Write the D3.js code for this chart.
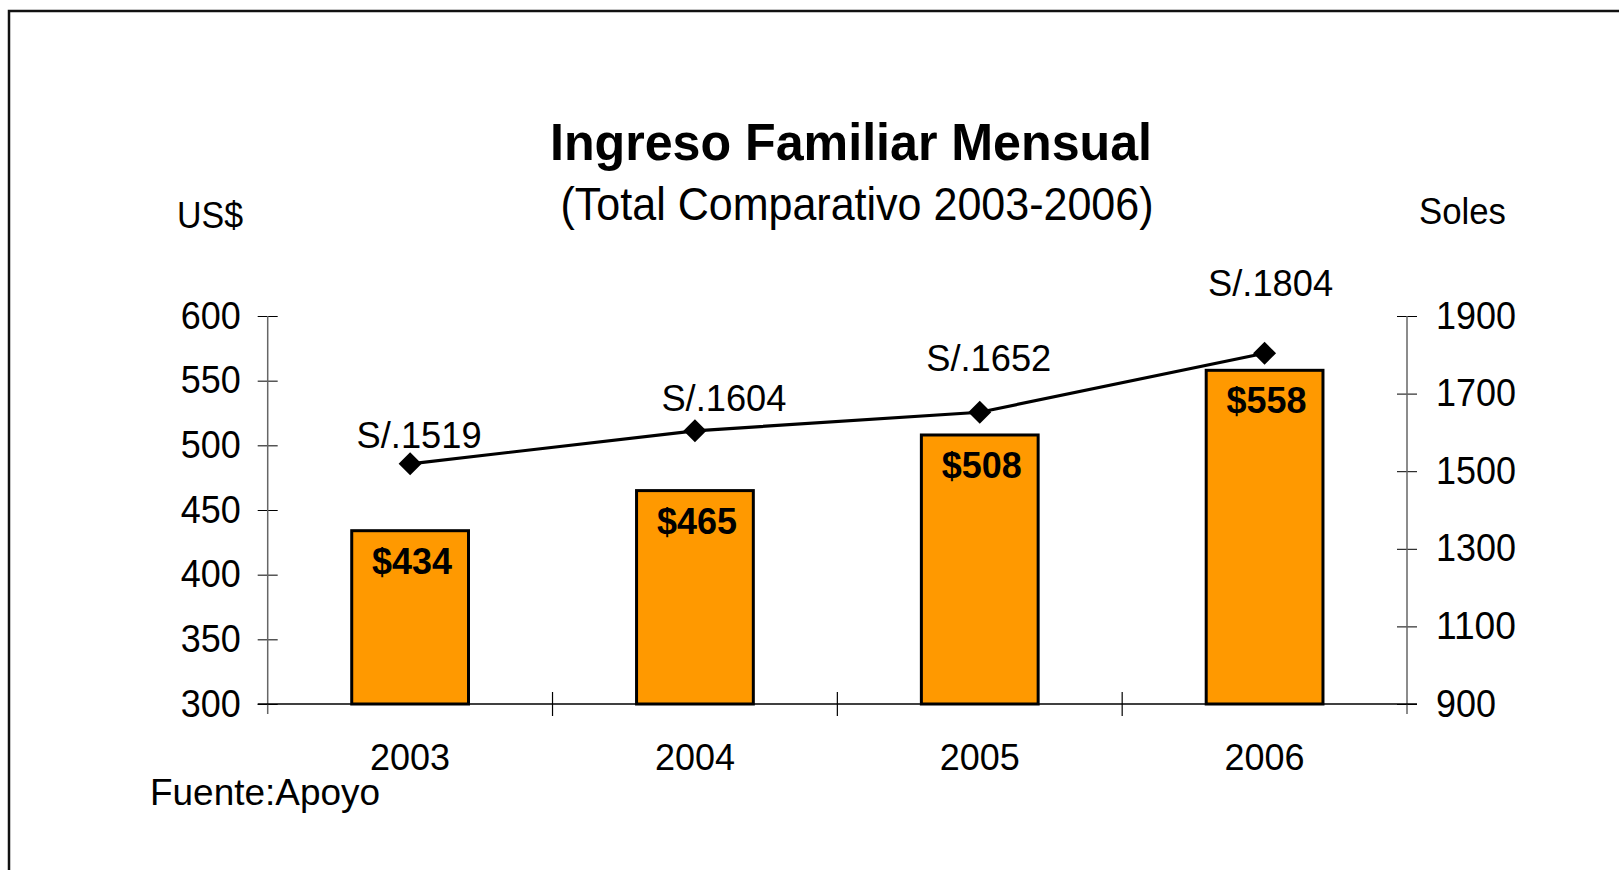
<!DOCTYPE html>
<html>
<head>
<meta charset="utf-8">
<script src="https://cdn.jsdelivr.net/npm/d3@7"></script>
<style>
  body { margin: 0; background: #fff; }
  text { font-family: "Liberation Sans", Arial, sans-serif; fill: #000; }
</style>
</head>
<body>
<div id="chart"></div>
<script>
// data
var years = ["2003", "2004", "2005", "2006"];
var usd = [434, 465, 508, 558];
var soles = [1519, 1604, 1652, 1804];
var usdTicks = [300, 350, 400, 450, 500, 550, 600];
var solesTicks = [900, 1100, 1300, 1500, 1700, 1900];

// hand placement of the soles labels (dx, dy from the point), as in the original
var solesLabelNudge = [[9, -16], [29, -20], [9, -41], [6, -57]];

var W = 1619, H = 870;
var plot = { left: 267.7, right: 1407, top: 316, bottom: 704 };

var svg = d3.select('#chart').append('svg')
    .attr('width', W)
    .attr('height', H);

// outer frame (only top and left edges show in the picture)
svg.append('path')
    .attr('d', 'M9,' + H + 'V11H' + W)
    .attr('fill', 'none')
    .attr('stroke', '#111')
    .attr('stroke-width', 2.5);

var x = d3.scaleBand()
    .domain(years)
    .range([plot.left, plot.right]);

var yL = d3.scaleLinear().domain([300, 600]).range([plot.bottom, plot.top]);
var yR = d3.scaleLinear().domain([900, 1900]).range([plot.bottom, plot.top]);

var barW = x.bandwidth() * 0.41;
var cx = function(i) { return x(years[i]) + x.bandwidth() / 2; };

// titles
svg.append('text')
    .attr('x', 851).attr('y', 160)
    .attr('text-anchor', 'middle')
    .attr('font-size', 52).attr('font-weight', 'bold')
    .attr('textLength', 602).attr('lengthAdjust', 'spacingAndGlyphs')
    .text('Ingreso Familiar Mensual');

svg.append('text')
    .attr('x', 857).attr('y', 220)
    .attr('text-anchor', 'middle')
    .attr('font-size', 46)
    .attr('textLength', 593).attr('lengthAdjust', 'spacingAndGlyphs')
    .text('(Total Comparativo 2003-2006)');

svg.append('text')
    .attr('x', 177).attr('y', 228)
    .attr('font-size', 37)
    .attr('textLength', 66).attr('lengthAdjust', 'spacingAndGlyphs')
    .text('US$');

svg.append('text')
    .attr('x', 1419).attr('y', 224)
    .attr('font-size', 37)
    .attr('textLength', 87).attr('lengthAdjust', 'spacingAndGlyphs')
    .text('Soles');

// left axis
var gL = svg.append('g')
    .attr('transform', 'translate(' + plot.left + ',0)')
    .call(d3.axisLeft(yL).tickValues(usdTicks).tickFormat(d3.format('d')).tickSize(10).tickPadding(17));
gL.select('.domain').remove();
gL.selectAll('.tick line').attr('x1', 10).attr('stroke', '#000');
gL.selectAll('.tick text').attr('font-size', 38).attr('font-family', 'Liberation Sans, Arial, sans-serif').attr('fill', '#000')
    .attr('textLength', 60).attr('lengthAdjust', 'spacingAndGlyphs');
svg.append('line')
    .attr('x1', plot.left).attr('x2', plot.left)
    .attr('y1', plot.top).attr('y2', plot.bottom + 10)
    .attr('stroke', '#666').attr('stroke-width', 1.5);

// right axis
var gR = svg.append('g')
    .attr('transform', 'translate(' + plot.right + ',0)')
    .call(d3.axisRight(yR).tickValues(solesTicks).tickFormat(d3.format('d')).tickSize(10).tickPadding(19));
gR.select('.domain').remove();
gR.selectAll('.tick line').attr('x1', -10).attr('stroke', '#000');
gR.selectAll('.tick text').attr('font-size', 38).attr('font-family', 'Liberation Sans, Arial, sans-serif').attr('fill', '#000')
    .attr('textLength', (d) => String(d).length * 20).attr('lengthAdjust', 'spacingAndGlyphs');
svg.append('line')
    .attr('x1', plot.right).attr('x2', plot.right)
    .attr('y1', plot.top).attr('y2', plot.bottom + 10)
    .attr('stroke', '#666').attr('stroke-width', 1.5);

// bars
svg.selectAll('rect.bar')
    .data(usd)
    .enter().append('rect')
    .attr('class', 'bar')
    .attr('x', (d, i) => cx(i) - barW / 2)
    .attr('y', (d) => yL(d))
    .attr('width', barW)
    .attr('height', (d) => plot.bottom - yL(d))
    .attr('fill', '#FF9900')
    .attr('stroke', '#000')
    .attr('stroke-width', 3);

// bar labels
svg.selectAll('text.usd')
    .data(usd)
    .enter().append('text')
    .attr('class', 'usd')
    .attr('x', (d, i) => cx(i) + 2)
    .attr('y', (d) => yL(d) + 43)
    .attr('text-anchor', 'middle')
    .attr('font-size', 37)
    .attr('font-weight', 'bold')
    .attr('textLength', 80).attr('lengthAdjust', 'spacingAndGlyphs')
    .text((d) => '$' + d);

// bottom axis: baseline, separators, year labels
svg.append('line')
    .attr('x1', plot.left - 10).attr('x2', plot.right + 10)
    .attr('y1', plot.bottom).attr('y2', plot.bottom)
    .attr('stroke', '#000').attr('stroke-width', 1.5);

svg.selectAll('line.sep')
    .data(years.slice(1))
    .enter().append('line')
    .attr('class', 'sep')
    .attr('x1', (d) => x(d)).attr('x2', (d) => x(d))
    .attr('y1', plot.bottom - 12).attr('y2', plot.bottom + 12)
    .attr('stroke', '#000').attr('stroke-width', 1.2);

var gB = svg.append('g')
    .attr('transform', 'translate(0,' + plot.bottom + ')')
    .call(d3.axisBottom(x).tickSize(0).tickPadding(40));
gB.select('.domain').remove();
gB.selectAll('.tick text').attr('font-size', 37).attr('font-family', 'Liberation Sans, Arial, sans-serif').attr('fill', '#000')
    .attr('textLength', 80).attr('lengthAdjust', 'spacingAndGlyphs');

// soles line with diamond markers
var line = d3.line()
    .x((d, i) => cx(i))
    .y((d) => yR(d));

svg.append('path')
    .datum(soles)
    .attr('d', line)
    .attr('fill', 'none')
    .attr('stroke', '#000')
    .attr('stroke-width', 3.2);

svg.selectAll('path.mark')
    .data(soles)
    .enter().append('path')
    .attr('class', 'mark')
    .attr('d', d3.symbol().type(d3.symbolSquare).size(265))
    .attr('transform', (d, i) => 'translate(' + cx(i) + ',' + yR(d) + ') rotate(45)')
    .attr('fill', '#000');

svg.selectAll('text.soles')
    .data(soles)
    .enter().append('text')
    .attr('class', 'soles')
    .attr('x', (d, i) => cx(i) + solesLabelNudge[i][0])
    .attr('y', (d, i) => yR(d) + solesLabelNudge[i][1])
    .attr('text-anchor', 'middle')
    .attr('font-size', 37)
    .attr('textLength', 125).attr('lengthAdjust', 'spacingAndGlyphs')
    .text((d) => 'S/.' + d);

// source note
svg.append('text')
    .attr('x', 150).attr('y', 805)
    .attr('font-size', 37)
    .attr('textLength', 230).attr('lengthAdjust', 'spacingAndGlyphs')
    .text('Fuente:Apoyo');
</script>
</body>
</html>
